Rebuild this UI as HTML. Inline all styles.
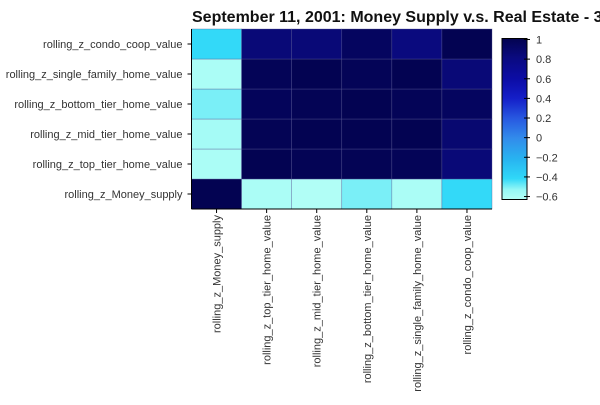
<!DOCTYPE html>
<html><head><meta charset="utf-8"><style>
body{margin:0;background:#fff;}
svg{font-family:"Liberation Sans",Arial,sans-serif;}
</style></head><body>
<svg id="c" width="600" height="400">
<text x="192" y="22" font-size="16" font-weight="bold" fill="#111">September 11, 2001: Money Supply v.s. Real Estate - 3</text>
</svg>
<script>
const categories=["rolling_z_Money_supply","rolling_z_top_tier_home_value","rolling_z_mid_tier_home_value","rolling_z_bottom_tier_home_value","rolling_z_single_family_home_value","rolling_z_condo_coop_value"];
// rows bottom->top in same order as categories
const row0=[1.0,-0.6,-0.62,-0.5,-0.6,-0.42];
const row1=[-0.6,1.0,0.99,0.99,0.98,0.85];
const row2=[-0.58,0.99,1.0,1.0,1.0,0.88];
const row3=[-0.5,0.97,0.99,1.0,0.98,0.95];
const row4=[-0.6,0.98,1.0,0.98,1.0,0.85];
const row5=[-0.42,0.85,0.85,0.95,0.82,1.0];
const rows=[row0,row1,row2,row3,row4,row5];
const cbTicks=[1,0.8,0.6,0.4,0.2,0,-0.2,-0.4,-0.6];
const cbTickLabels=["1","0.8","0.6","0.4","0.2","0","\u22120.2","\u22120.4","\u22120.6"];
const vmin=-0.63,vmax=1.01;
const stops=[[0,[180,255,246]],[0.06,[150,248,246]],[0.13,[48,216,248]],[0.25,[40,180,240]],[0.38,[50,140,235]],[0.5,[40,90,225]],[0.63,[20,30,200]],[0.75,[12,12,165]],[0.88,[10,10,128]],[1,[3,3,80]]];
function color(v){let t=(v-vmin)/(vmax-vmin);t=Math.max(0,Math.min(1,t));
for(let i=1;i<stops.length;i++){if(t<=stops[i][0]){const a=stops[i-1],b=stops[i],f=(t-a[0])/(b[0]-a[0]);
return 'rgb('+a[1].map((c,k)=>Math.round(c+(b[1][k]-c)*f)).join(',')+')';}}return 'rgb(3,3,80)';}
const X0=191.5,X1=492,Y0=29,Y1=209,n=categories.length;
const cw=(X1-X0)/n,ch=(Y1-Y0)/n;
const xPos=i=>X0+i*cw, yPos=j=>Y1-(j+1)*ch;
const svg=document.getElementById('c'),NS='http://www.w3.org/2000/svg';
function mk(t,a,p){const e=document.createElementNS(NS,t);for(const k in a)e.setAttribute(k,a[k]);(p||svg).appendChild(e);return e;}
rows.forEach((r,j)=>r.forEach((v,i)=>{
const e=mk('rect',{x:xPos(i),y:yPos(j),width:cw,height:ch,fill:color(v),stroke:'rgba(90,90,150,0.6)','stroke-width':0.6});


}));
let ax=mk('line',{x1:X0,y1:Y0,x2:X0,y2:Y1,stroke:'#000'});


ax=mk('line',{x1:X0,y1:Y1,x2:X1,y2:Y1,stroke:'#000'});


categories.forEach((c,j)=>{
const y=yPos(j)+ch/2;
mk('line',{x1:X0-4,y1:y,x2:X0,y2:y,stroke:'#000'});
const t=mk('text',{x:X0-9,y:y+4,'text-anchor':'end','font-size':11,fill:'#333'});t.textContent=c;


});
categories.forEach((c,i)=>{
const x=xPos(i)+cw/2;
mk('line',{x1:x,y1:Y1,x2:x,y2:Y1+4,stroke:'#000'});
const t=mk('text',{x:0,y:0,'text-anchor':'end','font-size':11,fill:'#333',transform:'translate('+(x+4)+','+(Y1+6)+') rotate(-90)'});t.textContent=c;


});
// colorbar
const CX=502,CW=25,CY0=38.5,CY1=199.5;
const cy=v=>CY1-(v-vmin)/(vmax-vmin)*(CY1-CY0);
const defs=mk('defs',{});const g=mk('linearGradient',{id:'cg',x1:0,y1:1,x2:0,y2:0},defs);
stops.forEach(s=>mk('stop',{offset:s[0],'stop-color':'rgb('+s[1].join(',')+')'},g));
const cb=mk('rect',{x:CX,y:CY0,width:CW,height:CY1-CY0,fill:'url(#cg)',stroke:'#000','stroke-width':1});


cbTicks.forEach((v,k)=>{
const y=cy(v);
mk('line',{x1:CX+CW-3,y1:y,x2:CX+CW+3,y2:y,stroke:'#000'});
const t=mk('text',{x:CX+CW+9,y:y+4,'font-size':11,fill:'#333'});t.textContent=cbTickLabels[k];


});
</script>
</body></html>
